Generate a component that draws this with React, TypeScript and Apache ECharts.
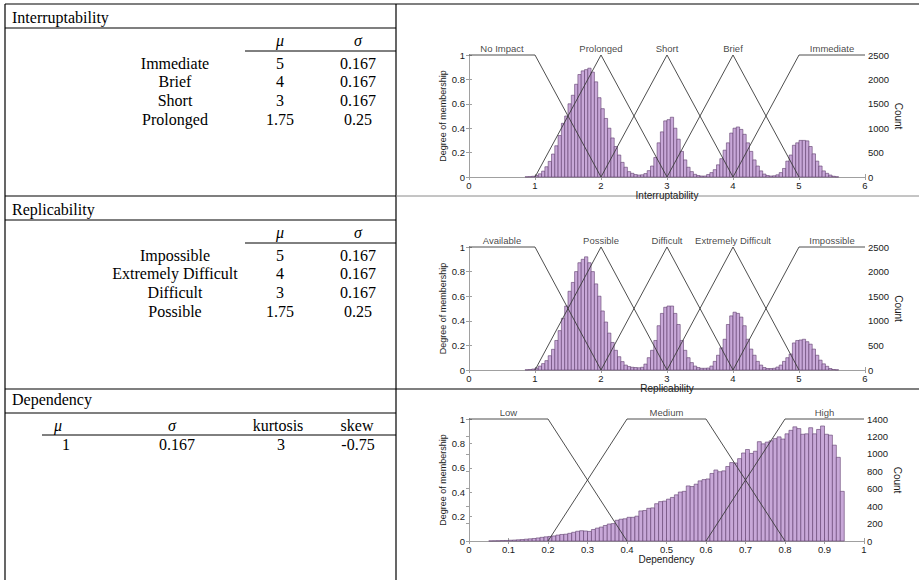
import React, { useEffect, useRef } from "react";
import * as echarts from "echarts";

// ---------- Table data ----------
const interruptTitle = "Interruptability";
const interruptLevels = ["Immediate", "Brief", "Short", "Prolonged"];
const interruptMu = ["5", "4", "3", "1.75"];
const interruptSigma = ["0.167", "0.167", "0.167", "0.25"];

const replicTitle = "Replicability";
const replicLevels = ["Impossible", "Extremely Difficult", "Difficult", "Possible"];
const replicMu = ["5", "4", "3", "1.75"];
const replicSigma = ["0.167", "0.167", "0.167", "0.25"];

const depTitle = "Dependency";
const depHeaders = ["μ", "σ", "kurtosis", "skew"];
const depValues = ["1", "0.167", "3", "-0.75"];

// ---------- Chart data ----------
// Interruptability: membership sets
const interruptSetNames = ["No Impact", "Prolonged", "Short", "Brief", "Immediate"];
const interruptSetLabelX = [0.5, 2, 3, 4, 5.5];
const interruptSetShapes = [
  [[0, 1], [1, 1], [2, 0]],
  [[1, 0], [2, 1], [3, 0]],
  [[2, 0], [3, 1], [4, 0]],
  [[3, 0], [4, 1], [5, 0]],
  [[4, 0], [5, 1], [6, 1]],
];
// histogram: bins of width 0.05 starting at 0.85
const interruptBinStart = 0.85;
const interruptBinWidth = 0.05;
const interruptCounts = [
  5, 8, 15, 30, 65, 120, 210, 320, 470, 640, 850, 1100, 1250, 1500, 1675, 1900, 2100, 2175, 2200, 2230,
  2150, 1950, 1625, 1400, 1200, 1000, 800, 625, 450, 300, 200, 110, 75, 50, 40,
  45, 70, 130, 225, 400, 700, 925, 1150, 1175, 1225, 1000, 775, 525, 350, 200, 110, 55, 30, 20, 20,
  50, 90, 150, 250, 375, 550, 700, 900, 1000, 1025, 975, 875, 700, 525, 350, 225, 125, 60, 30, 20,
  25, 45, 90, 175, 325, 450, 650, 700, 750, 750, 740, 625, 475, 325, 225, 125, 75, 40, 15, 5,
];

// Replicability
const replicSetNames = ["Available", "Possible", "Difficult", "Extremely Difficult", "Impossible"];
const replicSetLabelX = [0.5, 2, 3, 4, 5.5];
const replicSetShapes = [
  [[0, 1], [1, 1], [2, 0]],
  [[1, 0], [2, 1], [3, 0]],
  [[2, 0], [3, 1], [4, 0]],
  [[3, 0], [4, 1], [5, 0]],
  [[4, 0], [5, 1], [6, 1]],
];
const replicBinStart = 0.85;
const replicBinWidth = 0.05;
const replicCounts = [
  5, 10, 20, 40, 80, 130, 190, 290, 420, 600, 800, 1050, 1300, 1600, 1780, 2000, 2180, 2250, 2300, 2180,
  2000, 1750, 1500, 1200, 975, 750, 560, 400, 270, 170, 100, 70, 55, 50, 45,
  55, 120, 250, 400, 600, 900, 1150, 1275, 1300, 1300, 1150, 925, 600, 400, 250, 150, 80, 50, 35, 35,
  40, 80, 175, 300, 450, 625, 925, 1100, 1175, 1150, 1075, 900, 625, 425, 300, 175, 100, 50, 30, 30,
  35, 60, 100, 175, 250, 325, 550, 600, 610, 625, 575, 525, 425, 300, 200, 125, 75, 30, 10, 5,
];

// Dependency
const depSetNames = ["Low", "Medium", "High"];
const depSetLabelX = [0.1, 0.5, 0.9];
const depSetShapes = [
  [[0, 1], [0.2, 1], [0.4, 0]],
  [[0.2, 0], [0.4, 1], [0.6, 1], [0.8, 0]],
  [[0.6, 0], [0.8, 1], [1, 1]],
];
const depBinStart = 0.05;
const depBinWidth = 0.01;
const depCounts = [
  1, 2, 3, 5, 6, 9, 11, 14, 17, 21, 25, 29, 35, 42, 48, 52, 58, 68, 75, 78,
  88, 100, 112, 118, 115, 110, 132, 148, 160, 178, 195, 200, 238, 250, 255, 272, 272, 285, 345, 350,
  375, 380, 428, 452, 458, 480, 500, 530, 562, 570, 632, 625, 652, 690, 705, 712, 775, 815, 795, 805,
  855, 900, 895, 945, 1010, 1050, 1005, 1030, 1140, 1115, 1135, 1150, 1175, 1195, 1170, 1230, 1270, 1310, 1290, 1225,
  1230, 1300, 1230, 1280, 1320, 1225, 1215, 1100, 960, 570,
];

// ---------- Styling ----------
const SANS = '"Liberation Sans", Arial, sans-serif';
const SERIF = '"Liberation Serif", "Times New Roman", serif';
const AXIS_GRAY = "#a0a0a0";
const BAR_FILL = "#c8a8d8";
const BAR_EDGE = "#5e3d6b";
const MF_COLOR = "#3a3a3a";
const LABEL_COLOR = "#1a1a1a";

type Panel = {
  grid: { left: number; top: number; width: number; height: number };
  xMin: number;
  xMax: number;
  xInterval: number;
  xName: string;
  countMax: number;
  countInterval: number;
  setNames: string[];
  setLabelX: number[];
  setShapes: number[][][];
  binStart: number;
  binWidth: number;
  counts: number[];
};

const panels: Panel[] = [
  {
    grid: { left: 469, top: 55, width: 396, height: 122 },
    xMin: 0, xMax: 6, xInterval: 1, xName: "Interruptability",
    countMax: 2500, countInterval: 500,
    setNames: interruptSetNames, setLabelX: interruptSetLabelX, setShapes: interruptSetShapes,
    binStart: interruptBinStart, binWidth: interruptBinWidth, counts: interruptCounts,
  },
  {
    grid: { left: 469, top: 247, width: 396, height: 123 },
    xMin: 0, xMax: 6, xInterval: 1, xName: "Replicability",
    countMax: 2500, countInterval: 500,
    setNames: replicSetNames, setLabelX: replicSetLabelX, setShapes: replicSetShapes,
    binStart: replicBinStart, binWidth: replicBinWidth, counts: replicCounts,
  },
  {
    grid: { left: 469, top: 419, width: 395, height: 122 },
    xMin: 0, xMax: 1, xInterval: 0.1, xName: "Dependency",
    countMax: 1400, countInterval: 200,
    setNames: depSetNames, setLabelX: depSetLabelX, setShapes: depSetShapes,
    binStart: depBinStart, binWidth: depBinWidth, counts: depCounts,
  },
];

function buildOption() {
  const grids: any[] = [];
  const xAxes: any[] = [];
  const yAxes: any[] = [];
  const series: any[] = [];

  panels.forEach((p, i) => {
    grids.push({ ...p.grid, containLabel: false });
    const axisLine = { show: true, lineStyle: { color: AXIS_GRAY, width: 1 } };
    const axisTick = { show: true, inside: true, length: 3, lineStyle: { color: AXIS_GRAY } };
    const tickLabel = { fontSize: 9.5, color: LABEL_COLOR, fontFamily: SANS };
    xAxes.push({
      type: "value", gridIndex: i, position: "bottom",
      min: p.xMin, max: p.xMax, interval: p.xInterval,
      axisLine, axisTick, splitLine: { show: false },
      axisLabel: { ...tickLabel, margin: 3 },
      name: p.xName, nameLocation: "middle", nameGap: 11,
      nameTextStyle: { fontSize: 10, color: LABEL_COLOR, fontFamily: SANS },
    });
    xAxes.push({
      type: "value", gridIndex: i, position: "top",
      min: p.xMin, max: p.xMax, interval: p.xInterval,
      axisLine, axisTick, splitLine: { show: false },
      axisLabel: { show: false },
    });
    yAxes.push({
      type: "value", gridIndex: i, position: "left",
      min: 0, max: 1, interval: 0.2,
      axisLine, axisTick, splitLine: { show: false },
      axisLabel: { ...tickLabel, margin: 4 },
      name: "Degree of membership", nameLocation: "middle", nameGap: 20, nameRotate: 90,
      nameTextStyle: { fontSize: 9, color: LABEL_COLOR, fontFamily: SANS },
    });
    yAxes.push({
      type: "value", gridIndex: i, position: "right",
      min: 0, max: p.countMax, interval: p.countInterval,
      axisLine, axisTick, splitLine: { show: false },
      axisLabel: { ...tickLabel, margin: 3, formatter: (v: number) => String(v) },
      name: "Count", nameLocation: "middle", nameGap: 26, nameRotate: -90,
      nameTextStyle: { fontSize: 10, color: LABEL_COLOR, fontFamily: SANS },
    });

    const w = p.binWidth;
    series.push({
      type: "custom",
      xAxisIndex: 2 * i,
      yAxisIndex: 2 * i + 1,
      data: p.counts.map((c, k) => [+(p.binStart + k * w).toFixed(3), c]),
      encode: { x: 0, y: 1 },
      z: 1,
      renderItem: (_params: any, api: any) => {
        const x0 = api.value(0);
        const c = api.value(1);
        const a = api.coord([x0, 0]);
        const b = api.coord([x0 + w, c]);
        return {
          type: "rect",
          shape: { x: a[0], y: b[1], width: b[0] - a[0], height: a[1] - b[1] },
          style: { fill: BAR_FILL, stroke: BAR_EDGE, lineWidth: 0.6 },
        };
      },
    });

    p.setShapes.forEach((shape, k) => {
      series.push({
        type: "line",
        name: p.setNames[k],
        xAxisIndex: 2 * i,
        yAxisIndex: 2 * i,
        data: shape,
        symbol: "none",
        z: 3,
        lineStyle: { color: MF_COLOR, width: 0.9 },
        clip: false,
      });
    });

    series.push({
      type: "scatter",
      xAxisIndex: 2 * i,
      yAxisIndex: 2 * i,
      symbolSize: 0,
      silent: true,
      clip: false,
      z: 4,
      data: p.setNames.map((n, k) => ({ name: n, value: [p.setLabelX[k], 1] })),
      label: {
        show: true, position: "top", distance: 2, formatter: "{b}",
        fontSize: 9.5, color: "#111", fontFamily: SANS,
      },
    });
  });

  // ---------- Table graphics ----------
  const g: any[] = [];
  const hline = (x1: number, x2: number, y: number, color = "#000", lw = 1.2) =>
    g.push({ type: "line", shape: { x1, y1: y, x2, y2: y }, style: { stroke: color, lineWidth: lw }, silent: true });
  const vline = (x: number, y1: number, y2: number) =>
    g.push({ type: "line", shape: { x1: x, y1, x2: x, y2 }, style: { stroke: "#000", lineWidth: 1.2 }, silent: true });
  const txt = (s: string, x: number, y: number, align: string, italic = false) =>
    g.push({
      type: "text", x, y, silent: true,
      style: {
        text: s, fill: "#000", font: `${italic ? "italic " : ""}16px ${SERIF}`,
        textAlign: align, align, textVerticalAlign: "middle", verticalAlign: "middle",
      },
    });

  const LEFT = 5;
  const MID = 396;
  const RIGHT = 919;
  hline(LEFT, RIGHT, 4);
  vline(LEFT, 4, 580);
  vline(MID, 4, 580);
  hline(LEFT, MID, 28);
  hline(LEFT, MID, 196);
  hline(MID, RIGHT, 196, "#8a8a8a", 1);
  hline(LEFT, MID, 220);
  hline(LEFT, RIGHT, 389);
  hline(LEFT, MID, 413);

  const levelTable = (top: number, title: string, levels: string[], mu: string[], sigma: string[]) => {
    txt(title, 12, top + 13, "left");
    txt("μ", 280, top + 36, "center", true);
    txt("σ", 358, top + 36, "center", true);
    hline(245, MID, top + 47, "#000", 1);
    levels.forEach((lv, k) => {
      const y = top + 59 + k * 18.7;
      txt(lv, 175, y, "center");
      txt(mu[k], 280, y, "center");
      txt(sigma[k], 358, y, "center");
    });
  };
  levelTable(4, interruptTitle, interruptLevels, interruptMu, interruptSigma);
  levelTable(196, replicTitle, replicLevels, replicMu, replicSigma);

  txt(depTitle, 12, 399, "left");
  const depHeadX = [58, 172, 278, 357];
  const depValX = [66, 177, 281, 358];
  depHeaders.forEach((h, k) => txt(h, depHeadX[k], 425, "center", k < 2));
  hline(42, MID, 435, "#000", 1);
  depValues.forEach((v, k) => txt(v, depValX[k], 444, "center"));

  return {
    animation: false,
    backgroundColor: "#fff",
    grid: grids,
    xAxis: xAxes,
    yAxis: yAxes,
    series,
    graphic: { elements: g },
  };
}

export default function App() {
  const ref = useRef<HTMLDivElement>(null);
  useEffect(() => {
    if (!ref.current) return;
    const chart = echarts.init(ref.current, null, { renderer: "svg" });
    chart.setOption(buildOption());
    return () => chart.dispose();
  }, []);
  return (
    <div
      ref={ref}
      style={{ position: "absolute", left: 0, top: 0, width: 919, height: 580, background: "#fff" }}
    />
  );
}
